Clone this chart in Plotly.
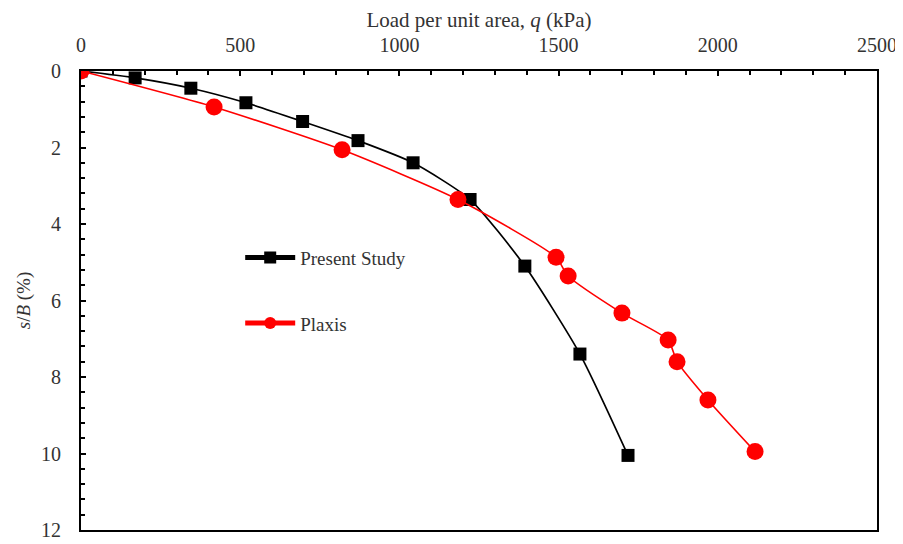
import plotly.graph_objects as go

# Present Study
ps_q = [0, 170, 345, 518, 696, 870, 1043, 1222, 1394, 1567, 1718]
ps_s = [0, 0.18, 0.45, 0.83, 1.32, 1.82, 2.4, 3.36, 5.1, 7.4, 10.05]

# Plaxis
px_q = [0, 418, 820, 1184, 1492, 1530, 1699, 1844, 1872, 1969, 2117]
px_s = [0, 0.94, 2.06, 3.36, 4.87, 5.36, 6.33, 7.03, 7.6, 8.6, 9.95]

FONT = "Liberation Serif"
TXT = "#333333"

fig = go.Figure()
fig.add_trace(go.Scatter(
    x=ps_q, y=ps_s, name="Present Study", mode="lines+markers",
    line=dict(color="black", width=1.7, shape="spline", smoothing=0.6),
    marker=dict(symbol="square", size=13, color="black"),
    legendgroup="a",
))
fig.add_trace(go.Scatter(
    x=px_q, y=px_s, name="Plaxis", mode="lines+markers",
    line=dict(color="#ff0000", width=1.6, shape="spline", smoothing=0.6),
    marker=dict(symbol="circle", size=17, color="#ff0000"),
    legendgroup="b",
))

axis_common = dict(
    showline=True, linecolor="black", linewidth=2, mirror=True,
    ticks="inside", ticklen=5, tickwidth=1.5, tickcolor="black",
    showgrid=False, zeroline=False, automargin=False,
    tickfont=dict(family=FONT, size=20, color=TXT),
)

fig.update_layout(
    width=903, height=544,
    margin=dict(l=73, r=34, t=63, b=22),
    paper_bgcolor="white", plot_bgcolor="white",
    font=dict(family=FONT, size=19, color=TXT),
    xaxis=dict(
        range=[0, 2500], side="top", dtick=500, ticklabelstandoff=9,
        minor=dict(dtick=100, ticks="inside", ticklen=4, tickcolor="black", tickwidth=1.5),
        title=dict(text="Load per unit area, <i>q</i> (kPa)", font=dict(family=FONT, size=21, color=TXT), standoff=4),
        **axis_common,
    ),
    yaxis=dict(
        range=[12, 0], dtick=2, ticklabelstandoff=14,
        minor=dict(dtick=0.4, ticks="inside", ticklen=4, tickcolor="black", tickwidth=1.5),
        title=dict(text="<i>s</i>/<i>B</i> (%)", font=dict(family=FONT, size=19, color=TXT), standoff=5),
        **axis_common,
    ),
    legend=dict(
        x=0.2, y=0.635, xanchor="left", yanchor="top",
        bgcolor="rgba(0,0,0,0)", tracegroupgap=38, itemwidth=50, itemsizing="constant",
        font=dict(family=FONT, size=19, color=TXT),
    ),
    showlegend=True,
)

fig.write_html("out.html")
